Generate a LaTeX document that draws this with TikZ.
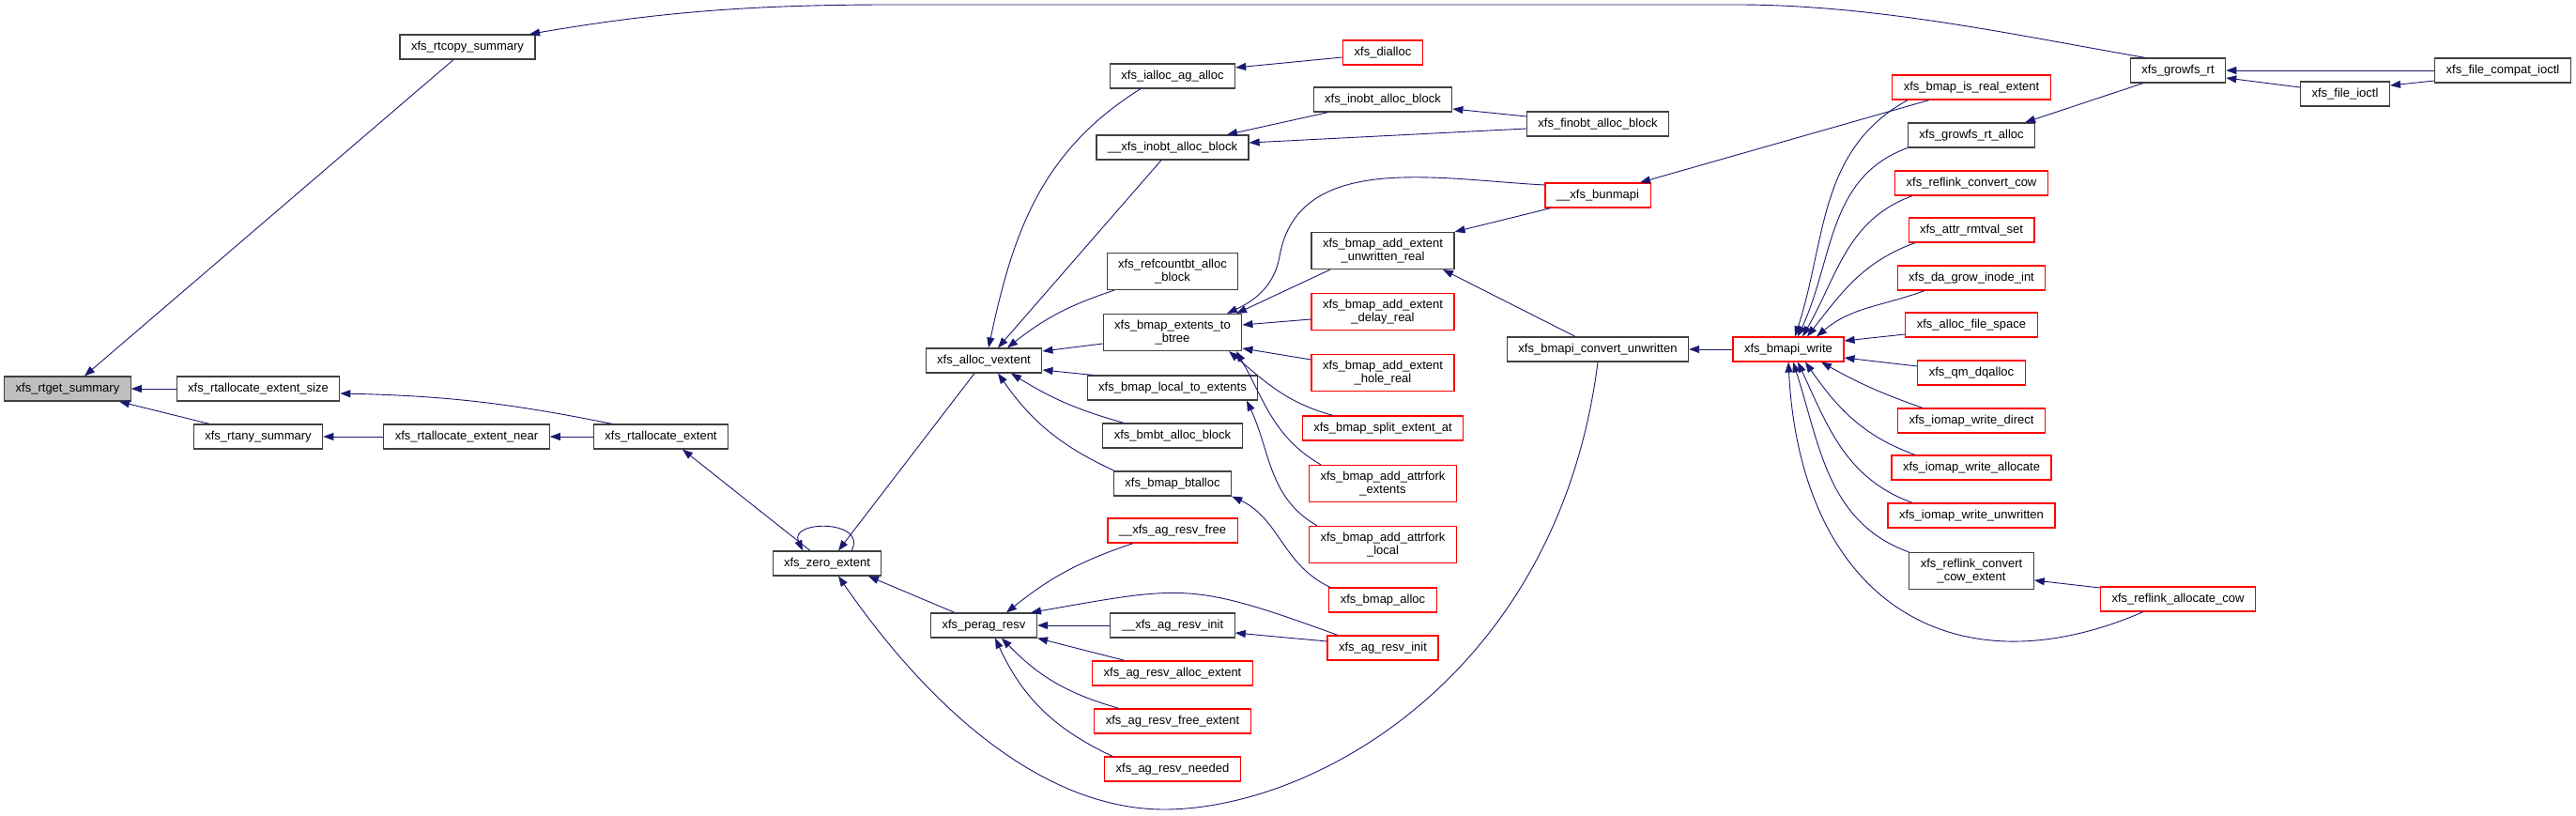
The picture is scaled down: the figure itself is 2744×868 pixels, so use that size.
\documentclass[tikz,border=0pt]{standalone}
\usepackage{fontspec}
\setmainfont{Liberation Sans}
\usetikzlibrary{arrows.meta}
\definecolor{edgeblue}{HTML}{191970}
\definecolor{rootgray}{HTML}{BFBFBF}

\begin{document}
\begin{tikzpicture}[x=1pt, y=1pt,
  font=\fontsize{13}{14}\selectfont,
  fn/.style={rectangle, draw=black!75, line width=1.2pt, fill=white, align=center, inner xsep=12pt, inner ysep=6.5pt, minimum height=26pt},
  rt/.style={fn, fill=rootgray},
  tr/.style={fn, draw=red},
  % caller -> callee, tip sits on the callee
  cl/.style={{Triangle[length=11pt, width=8pt]}-, draw=edgeblue, line width=0.9pt}]

\useasboundingbox (0,0) rectangle (2744,868);

% ---- Column 1-3: rt summary chain ----
\node[rt] (get) at (72,454) {xfs\_rtget\_summary};
\node[fn] (copy) at (498,818) {xfs\_rtcopy\_summary};
\node[fn] (size) at (275,454) {xfs\_rtallocate\_extent\_size};
\node[fn] (any) at (275,403) {xfs\_rtany\_summary};
\node[fn] (near) at (497,403) {xfs\_rtallocate\_extent\_near};
\node[fn] (rtalloc) at (704,403) {xfs\_rtallocate\_extent};
\node[fn] (zero) at (881,268) {xfs\_zero\_extent};
\node[fn] (vext) at (1048,484) {xfs\_alloc\_vextent};
\node[fn] (perag) at (1048,202) {xfs\_perag\_resv};

% ---- Column 4: callers of alloc_vextent / perag_resv ----
\node[fn] (ialloc) at (1249,787) {xfs\_ialloc\_ag\_alloc};
\node[fn] (inobtu) at (1249,711) {\_\_xfs\_inobt\_alloc\_block};
\node[fn] (refc) at (1249,579) {xfs\_refcountbt\_alloc\\\_block};
\node[fn] (e2b) at (1249,514) {xfs\_bmap\_extents\_to\\\_btree};
\node[fn] (l2e) at (1249,455) {xfs\_bmap\_local\_to\_extents};
\node[fn] (bmbt) at (1249,404) {xfs\_bmbt\_alloc\_block};
\node[fn] (btalloc) at (1249,353) {xfs\_bmap\_btalloc};
\node[tr] (agfree) at (1249,303) {\_\_xfs\_ag\_resv\_free};
\node[fn] (aginitu) at (1249,202) {\_\_xfs\_ag\_resv\_init};
\node[tr] (agalloc) at (1249,151) {xfs\_ag\_resv\_alloc\_extent};
\node[tr] (agfreeext) at (1249,100) {xfs\_ag\_resv\_free\_extent};
\node[tr] (agneed) at (1249,49) {xfs\_ag\_resv\_needed};

% ---- Column 5-6 ----
\node[tr] (dialloc) at (1473,812) {xfs\_dialloc};
\node[fn] (inobt) at (1473,762) {xfs\_inobt\_alloc\_block};
\node[fn] (finobt) at (1702,736) {xfs\_finobt\_alloc\_block};
\node[tr] (bunmapi) at (1702,660) {\_\_xfs\_bunmapi};
\node[fn] (unwr) at (1473,601) {xfs\_bmap\_add\_extent\\\_unwritten\_real};
\node[tr] (delay) at (1473,536) {xfs\_bmap\_add\_extent\\\_delay\_real};
\node[tr] (hole) at (1473,471) {xfs\_bmap\_add\_extent\\\_hole\_real};
\node[fn] (conv) at (1702,496) {xfs\_bmapi\_convert\_unwritten};
\node[tr] (split) at (1473,412) {xfs\_bmap\_split\_extent\_at};
\node[tr] (afext) at (1473,353) {xfs\_bmap\_add\_attrfork\\\_extents};
\node[tr] (aflocal) at (1473,288) {xfs\_bmap\_add\_attrfork\\\_local};
\node[tr] (balloc) at (1473,229) {xfs\_bmap\_alloc};
\node[tr] (aginit) at (1473,178) {xfs\_ag\_resv\_init};

% ---- Column 7-9: bmapi_write and its callers ----
\node[tr] (write) at (1905,496) {xfs\_bmapi\_write};
\node[tr] (real) at (2100,775) {xfs\_bmap\_is\_real\_extent};
\node[fn] (rtgalloc) at (2100,724) {xfs\_growfs\_rt\_alloc};
\node[tr] (rcow) at (2100,673) {xfs\_reflink\_convert\_cow};
\node[tr] (rmtval) at (2100,623) {xfs\_attr\_rmtval\_set};
\node[tr] (dagrow) at (2100,572) {xfs\_da\_grow\_inode\_int};
\node[tr] (afspace) at (2100,522) {xfs\_alloc\_file\_space};
\node[tr] (dqalloc) at (2100,471) {xfs\_qm\_dqalloc};
\node[tr] (iodirect) at (2100,420) {xfs\_iomap\_write\_direct};
\node[tr] (ioalloc) at (2100,370) {xfs\_iomap\_write\_allocate};
\node[tr] (iounwr) at (2100,319) {xfs\_iomap\_write\_unwritten};
\node[fn] (rcowext) at (2100,260) {xfs\_reflink\_convert\\\_cow\_extent};
\node[tr] (rallcow) at (2320,230) {xfs\_reflink\_allocate\_cow};
\node[fn] (growfs) at (2320,793) {xfs\_growfs\_rt};
\node[fn] (fioctl) at (2498,768) {xfs\_file\_ioctl};
\node[fn] (compat) at (2666,793) {xfs\_file\_compat\_ioctl};

% ---- Edges: rt summary chain ----
\draw[cl] ([xshift=18pt]get.north) -- ([xshift=-15pt]copy.south);
\draw[cl] (get) -- (size);
\draw[cl] ([xshift=55pt]get.south) -- ([xshift=-52pt]any.north);
\draw[cl] ([xshift=66pt]copy.north) .. controls (700,855) and (800,863) .. (950,863) -- (1850,863) .. controls (2000,863) and (2150,830) .. ([xshift=-35pt]growfs.north);
\draw[cl] ([yshift=-5pt]size.east) to[bend left=5] ([xshift=-52pt]rtalloc.north);
\draw[cl] (any) -- (near);  \draw[cl] (near) -- (rtalloc);
\draw[cl] ([xshift=23pt]rtalloc.south) -- ([xshift=-18pt]zero.north);
\draw[cl] ([xshift=-26pt]zero.north) .. controls +(-15,33) and +(18,33) .. ([xshift=26pt]zero.north);
\draw[cl] ([xshift=12pt]zero.north) -- ([xshift=-10pt]vext.south);
\draw[cl] ([xshift=44pt]zero.south) -- ([xshift=-31pt]perag.north);
\draw[cl] ([xshift=12pt]zero.south) .. controls (1000,100) and (1120,6) .. (1240,6) .. controls (1400,6) and (1660,150) .. (conv.south);

% ---- Edges: alloc_vextent ----
\draw[cl] ([xshift=5pt]vext.north) to[out=78, in=212] ([xshift=-34pt]ialloc.south);
\draw[cl] ([xshift=15pt]vext.north) -- ([xshift=-12pt]inobtu.south);
\draw[cl] ([xshift=25pt]vext.north) to[bend left=10] ([xshift=-62pt]refc.south);
\draw[cl] ([yshift=10pt]vext.east) -- ([yshift=-12pt]e2b.west);
\draw[cl] ([yshift=-10pt]vext.east) -- ([xshift=-85pt]l2e.north);
\draw[cl] ([xshift=29pt]vext.south) to[bend right=8] ([xshift=-52pt]bmbt.north);
\draw[cl] ([xshift=15pt]vext.south) to[bend right=15] ([xshift=-62pt]btalloc.north);
\draw[cl] ([yshift=9pt]ialloc.east) -- ([yshift=-5pt]dialloc.west);
\draw[cl] ([xshift=58pt]inobtu.north) -- ([xshift=-58pt]inobt.south);
\draw[cl] ([yshift=5pt]inobtu.east) -- ([yshift=-5pt]finobt.west);
\draw[cl] ([yshift=-10pt]inobt.east) -- ([yshift=8pt]finobt.west);

% ---- Edges: extents_to_btree, local_to_extents, btalloc ----
\draw[cl] ([xshift=58pt]e2b.north) to[out=25, in=-100] (1363,595) to[out=80, in=177] ([yshift=11pt]bunmapi.west);
\draw[cl] ([xshift=68pt]e2b.north) -- ([xshift=-56pt]unwr.south);
\draw[cl] ([yshift=8pt]e2b.east) -- ([yshift=-8pt]delay.west);
\draw[cl] ([yshift=-17pt]e2b.east) -- ([yshift=14pt]hole.west);
\draw[cl] ([xshift=60pt]e2b.south) to[out=-40, in=165] ([xshift=-53pt]split.north);
\draw[cl] ([xshift=68pt]e2b.south) to[out=-60, in=150] ([xshift=-66pt]afext.north);
\draw[cl] ([xshift=79pt]l2e.south) to[out=-65, in=150] ([xshift=-70pt]aflocal.north);
\draw[cl] (btalloc.south east) to[out=-25, in=155] ([xshift=-56pt]balloc.north);

% ---- Edges: perag_resv ----
\draw[cl] ([xshift=24pt]perag.north) to[bend left=10] ([xshift=-42pt]agfree.south);
\draw[cl] ([xshift=50pt]perag.north) to[out=10, in=160, looseness=1.3] ([xshift=-48pt]aginit.north);
\draw[cl] (perag) -- (aginitu);
\draw[cl] ([yshift=-8pt]aginitu.east) -- ([yshift=7pt]aginit.west);
\draw[cl] (perag.south east) -- ([xshift=-51pt]agalloc.north);
\draw[cl] ([xshift=19pt]perag.south) to[bend right=15] ([xshift=-57pt]agfreeext.north);
\draw[cl] ([xshift=12pt]perag.south) to[bend right=20] ([xshift=-64pt]agneed.north);

% ---- Edges: bunmapi, convert ----
\draw[cl] ([xshift=45pt]bunmapi.north) -- ([xshift=-45pt]real.south);
\draw[cl] (unwr.north east) -- ([xshift=-50pt]bunmapi.south);
\draw[cl] ([xshift=64pt]unwr.south) -- ([xshift=-24pt]conv.north);
\draw[cl] (conv) -- (write);

% ---- Edges: bmapi_write ----
\draw[cl] ([xshift=7pt]write.north) to[out=72, in=209] ([xshift=-68pt]real.south);
\draw[cl] ([xshift=10pt]write.north) to[out=65, in=200] (rtgalloc.south west);
\draw[cl] ([xshift=15pt]write.north) to[out=60, in=200] ([xshift=-63pt]rcow.south);
\draw[cl] ([xshift=20pt]write.north) to[out=52, in=200] ([xshift=-60pt]rmtval.south);
\draw[cl] ([xshift=30pt]write.north) to[out=40, in=200] ([xshift=-50pt]dagrow.south);
\draw[cl] ([yshift=9pt]write.east) -- ([yshift=-10pt]afspace.west);
\draw[cl] ([yshift=-9pt]write.east) -- ([yshift=7pt]dqalloc.west);
\draw[cl] ([xshift=35pt]write.south) to[bend right=5] ([xshift=-52pt]iodirect.north);
\draw[cl] ([xshift=18pt]write.south) to[out=-55, in=160] ([xshift=-60pt]ioalloc.north);
\draw[cl] ([xshift=10pt]write.south) to[out=-65, in=160] ([xshift=-63pt]iounwr.north);
\draw[cl] ([xshift=5pt]write.south) to[out=-72, in=160] (rcowext.north west);
\draw[cl] (write.south) .. controls +(13,-254) and +(-203,-88) .. ([xshift=-37pt]rallcow.south);
\draw[cl] ([yshift=-10pt]rcowext.east) -- ([yshift=12pt]rallcow.west);

% ---- Edges: growfs ----
\draw[cl] ([xshift=57pt]rtgalloc.north) -- ([xshift=-37pt]growfs.south);
\draw[cl] (growfs) -- (compat);
\draw[cl] ([yshift=-8pt]growfs.east) -- ([yshift=7pt]fioctl.west);
\draw[cl] ([yshift=9pt]fioctl.east) -- ([yshift=-11pt]compat.west);
\end{tikzpicture}
\end{document}
